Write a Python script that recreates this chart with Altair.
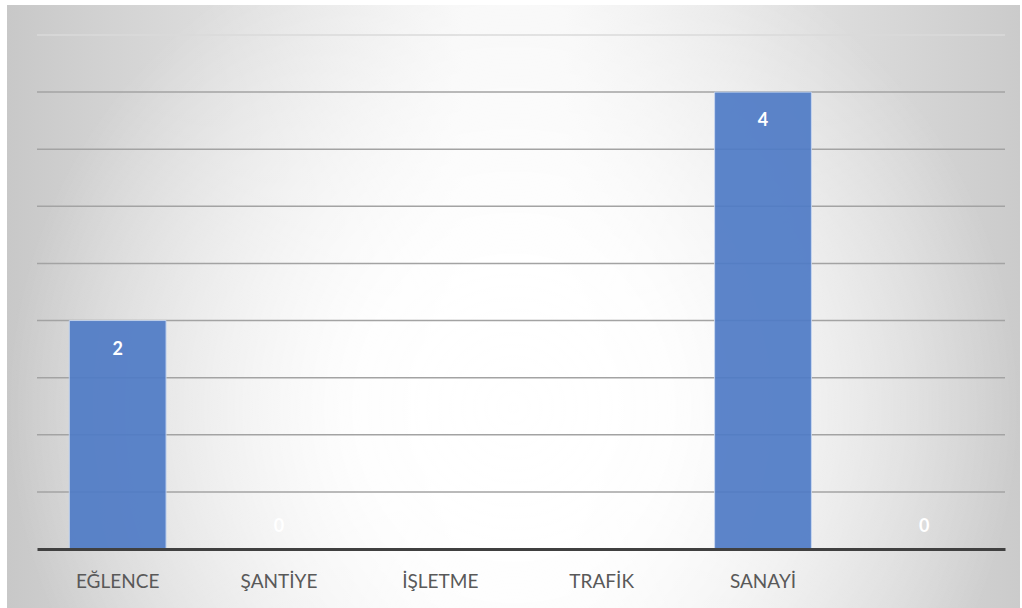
import altair as alt
import pandas as pd

categories = ["EĞLENCE", "ŞANTİYE", "İŞLETME", "TRAFİK", "SANAYİ", ""]
values = [2, 0, None, None, 4, 0]
grid_values = [0.5, 1, 1.5, 2, 2.5, 3, 3.5, 4]
top_grid = [4.5]

df = pd.DataFrame({"cat": categories, "val": values})
gdf = pd.DataFrame({"g": grid_values})
tdf = pd.DataFrame({"g": top_grid})

W, H = 968, 514
FONT = "Lato"

bg_enc = dict(
    x=alt.value(-30), x2=alt.value(W + 15),
    y=alt.value(-30), y2=alt.value(H + 59),
)
bg_lin = alt.Chart(alt.Data(values=[{}])).mark_rect(
    fill={
        "gradient": "linear",
        "x1": 0, "y1": 0, "x2": 1, "y2": 0,
        "stops": [
            {"offset": 0, "color": "#c8c8c8"},
            {"offset": 0.45, "color": "#f6f6f6"},
            {"offset": 0.55, "color": "#f6f6f6"},
            {"offset": 1, "color": "#cbcbcb"},
        ],
    }
).encode(**bg_enc)
bg_rad = alt.Chart(alt.Data(values=[{}])).mark_rect(
    fill={
        "gradient": "radial",
        "x1": 0.5, "y1": 0.6, "r1": 0,
        "x2": 0.5, "y2": 0.6, "r2": 0.5,
        "stops": [
            {"offset": 0, "color": "rgba(255,255,255,1)"},
            {"offset": 0.3, "color": "rgba(255,255,255,0.95)"},
            {"offset": 1, "color": "rgba(255,255,255,0)"},
        ],
    }
).encode(**bg_enc)

yscale = alt.Scale(domain=[0, 4.5], nice=False)
xscale = alt.Scale(domain=categories, paddingInner=0.4, paddingOuter=0.2)

grid = alt.Chart(gdf).mark_rule(color="#a3a3a3", strokeWidth=1.5).encode(
    y=alt.Y("g:Q", scale=yscale, axis=None),
    x=alt.value(0), x2=alt.value(W),
)
grid_top = alt.Chart(tdf).mark_rule(color="#dadada", strokeWidth=1.5).encode(
    y=alt.Y("g:Q", scale=yscale, axis=None),
    x=alt.value(0), x2=alt.value(W),
)

xenc = alt.X(
    "cat:N", sort=categories, title=None, scale=xscale,
    axis=alt.Axis(
        labelAngle=0, labelFont=FONT, labelFontSize=19, labelColor="#595959",
        labelPadding=23, ticks=False, domainColor="#404040", domainWidth=3,
        grid=False, zindex=1,
    ),
)
yenc = alt.Y("val:Q", title=None, scale=yscale, axis=None)

bars = alt.Chart(df).transform_filter("datum.val > 0").mark_bar(
    color="#4f7bc6", opacity=0.92, stroke="#c4d4f0", strokeWidth=1
).encode(x=xenc, y=yenc)

lab_pos = alt.Chart(df).transform_filter("datum.val > 0").mark_text(
    color="white", font=FONT, fontSize=18, fontWeight="bold", dy=29
).encode(
    x=alt.X("cat:N", sort=categories, scale=xscale),
    y=alt.Y("val:Q", scale=yscale),
    text=alt.Text("val:Q", format="d"),
)
lab_zero = alt.Chart(df).transform_filter("datum.val == 0").mark_text(
    color="white", font=FONT, fontSize=18, fontWeight="bold", dy=-22
).encode(
    x=alt.X("cat:N", sort=categories, scale=xscale),
    y=alt.Y("val:Q", scale=yscale),
    text=alt.Text("val:Q", format="d"),
)

chart = alt.layer(bg_lin, bg_rad, grid, grid_top, bars, lab_pos, lab_zero).resolve_scale(
    y="shared"
).properties(
    width=W, height=H,
    padding={"left": 37, "top": 35, "right": 17, "bottom": 59},
    autosize=alt.AutoSizeParams(type="none"),
    background="white",
).configure_view(stroke=None)

chart.save("out.html", embed_options={"renderer": "svg", "actions": False})
